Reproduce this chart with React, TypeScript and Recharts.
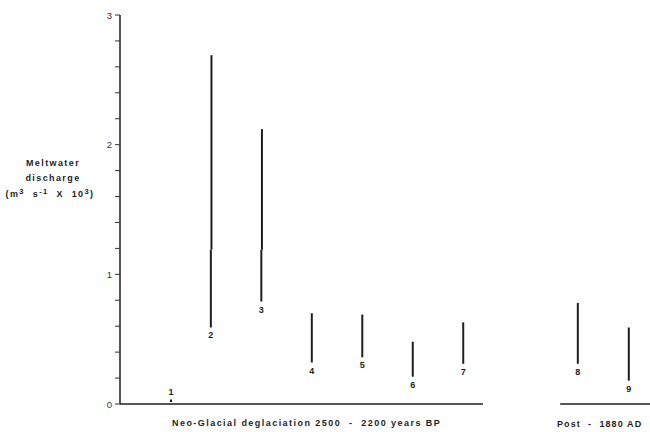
import React from 'react';
import { ComposedChart, XAxis, YAxis, ReferenceLine, Scatter } from 'recharts';

// Site labels and positions along the (unlabelled) horizontal axis
const categories = ['1', '2', '3', '4', '5', '6', '7', '8', '9'];
const xPositions = [1.21, 2, 3, 4, 5, 6, 7, 9.27, 10.28];
// Meltwater discharge ranges (m3 s-1 x 10^3)
const lowValues = [0.015, 0.59, 0.79, 0.32, 0.36, 0.21, 0.31, 0.31, 0.18];
const midValues: (number | null)[] = [null, 1.19, 1.19, null, null, null, null, null, null];
const highValues = [0.035, 2.69, 2.12, 0.7, 0.69, 0.48, 0.63, 0.78, 0.59];
const labelAbove = [true, false, false, false, false, false, false, false, false];

const yTicks = [0, 0.2, 0.4, 0.6, 0.8, 1, 1.2, 1.4, 1.6, 1.8, 2, 2.2, 2.4, 2.6, 2.8, 3];
const groupSegments = [
  { from: 0.2, to: 7.39 },
  { from: 8.92, to: 10.7 },
];
const groupTitles = ['Neo-Glacial deglaciation 2500  -  2200 years BP', 'Post  -  1880 AD'];

const data = categories.map((c, i) => ({
  name: c,
  x: xPositions[i],
  low: lowValues[i],
  mid: midValues[i],
  high: highValues[i],
  above: labelAbove[i],
}));

const FONT = '"Liberation Sans", Arial, Helvetica, sans-serif';
const INK = '#1e1e1e';

const LabelShape = (props: any) => {
  const { cx, cy, payload } = props;
  if (cx == null || cy == null) return null;
  const above = payload.above;
  const y = above ? cy - 7 : cy + 11;
  return (
    <text
      x={cx}
      y={y}
      textAnchor="middle"
      fontFamily={FONT}
      fontWeight="bold"
      fontSize={9}
      fill={INK}
    >
      {payload.name}
    </text>
  );
};

const YTick = (props: any) => {
  const { x, y, payload } = props;
  const v = payload.value;
  if (Math.abs(v - Math.round(v)) > 1e-6) return null;
  return (
    <text x={x - 1} y={y + 3.5} textAnchor="end" fontFamily={FONT} fontSize={9.5} fill="#333">
      {Math.round(v)}
    </text>
  );
};

export default function App() {
  return (
    <div style={{ position: 'absolute', left: 0, top: 0, width: 650, height: 432, background: '#fff', overflow: 'hidden' }}>
      <ComposedChart
        width={650}
        height={432}
        data={data}
        margin={{ top: 15, right: 0, bottom: 28, left: 0 }}
      >
        <XAxis dataKey="x" type="number" domain={[0.2, 10.7]} hide allowDataOverflow />
        <YAxis
          type="number"
          domain={[0, 3]}
          ticks={yTicks}
          width={120}
          tickSize={5}
          tickLine={{ stroke: '#333', strokeWidth: 1 }}
          axisLine={{ stroke: INK, strokeWidth: 1.5 }}
          tick={<YTick />}
          interval={0}
          allowDataOverflow
        />
        {groupSegments.map((s, i) => (
          <ReferenceLine
            key={'g' + i}
            segment={[
              { x: s.from, y: 0 },
              { x: s.to, y: 0 },
            ]}
            stroke={INK}
            strokeWidth={1.5}
            ifOverflow="visible"
          />
        ))}
        {data.map((d, i) =>
          d.mid == null ? (
            <ReferenceLine
              key={'b' + i}
              segment={[
                { x: d.x, y: d.low },
                { x: d.x, y: d.high },
              ]}
              stroke={INK}
              strokeWidth={2}
              ifOverflow="visible"
            />
          ) : null
        )}
        {data.map((d, i) =>
          d.mid != null ? (
            <ReferenceLine
              key={'l' + i}
              segment={[
                { x: d.x, y: d.low },
                { x: d.x, y: d.mid },
              ]}
              stroke={INK}
              strokeWidth={2}
              ifOverflow="visible"
            />
          ) : null
        )}
        {data.map((d, i) =>
          d.mid != null ? (
            <ReferenceLine
              key={'u' + i}
              segment={[
                { x: d.x + 0.012, y: d.mid },
                { x: d.x + 0.012, y: d.high },
              ]}
              stroke={INK}
              strokeWidth={2}
              ifOverflow="visible"
            />
          ) : null
        )}
        <Scatter dataKey="low" shape={<LabelShape />} isAnimationActive={false} />
      </ComposedChart>
      <svg
        width={650}
        height={432}
        style={{ position: 'absolute', left: 0, top: 0, pointerEvents: 'none' }}
      >
        <g fontFamily={FONT} fontWeight="bold" fontSize={9} fill={INK} letterSpacing={1.4} textAnchor="middle">
          <text x={53} y={166}>Meltwater</text>
          <text x={53} y={181}>discharge</text>
          <text x={50} y={197} xmlSpace="preserve">
            (m<tspan fontSize={7.5} dy={-3.5}>3</tspan>
            <tspan dy={3.5}>{'  s'}</tspan>
            <tspan fontSize={7.5} dy={-3.5}>-1</tspan>
            <tspan dy={3.5}>{'  X  10'}</tspan>
            <tspan fontSize={7.5} dy={-3.5}>3</tspan>
            <tspan dy={3.5}>)</tspan>
          </text>
        </g>
        <g fontFamily={FONT} fontWeight="bold" fontSize={9} fill={INK}>
          <text x={172} y={426} xmlSpace="preserve" letterSpacing={1.45}>{groupTitles[0]}</text>
          <text x={557} y={427} xmlSpace="preserve" letterSpacing={1.1}>{groupTitles[1]}</text>
        </g>
      </svg>
    </div>
  );
}
